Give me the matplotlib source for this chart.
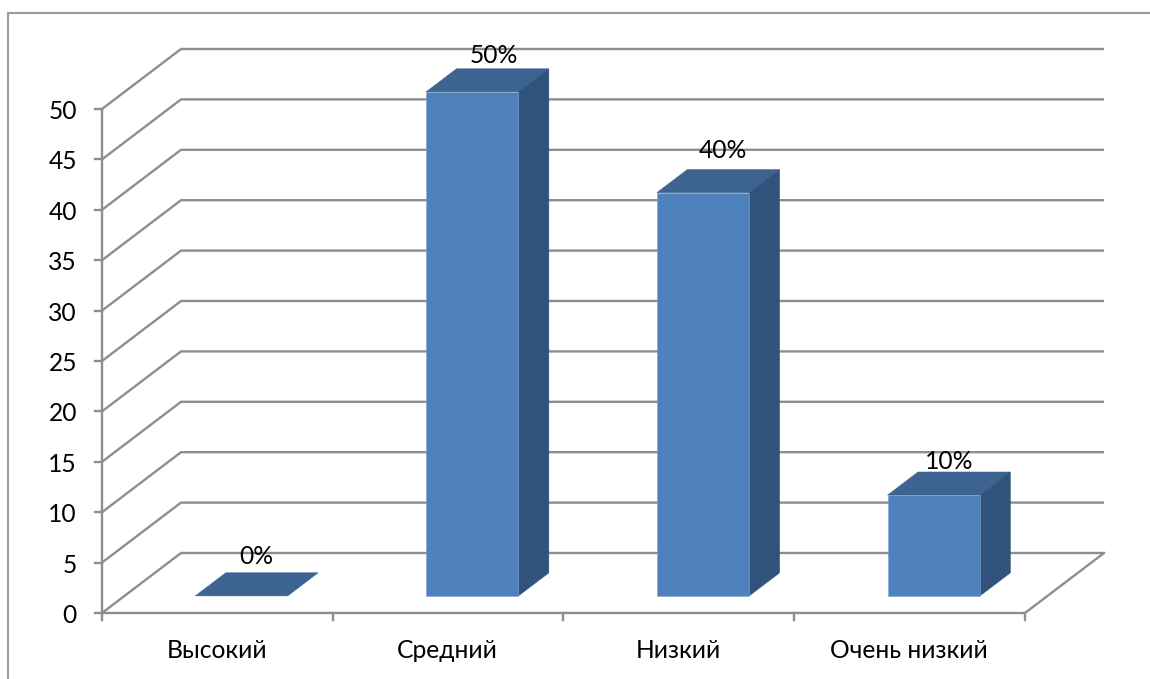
import matplotlib
matplotlib.use("Agg")
import matplotlib.pyplot as plt
from matplotlib.patches import Polygon

plt.rcParams['font.family'] = ['Lato', 'Open Sans', 'DejaVu Sans']

categories = ['Высокий', 'Средний', 'Низкий', 'Очень низкий']
values = [0, 50, 40, 10]
value_labels = ['0%', '50%', '40%', '10%']
y_ticks = [0, 5, 10, 15, 20, 25, 30, 35, 40, 45, 50]

GRID = '#8e8e8e'
FRONT = '#4f81bd'
TOP = '#3d6491'
SIDE = '#31537b'

# px scale of the picture, axes fill the whole figure
W, H = 1150, 679
X0, XSCALE = 102, 230.75   # px of category 0, px per category
Y0, YSCALE = 613, 10.08    # px of value 0, px per unit

fig = plt.figure(figsize=(W / 100, H / 100), dpi=100)
ax = fig.add_axes([0, 0, 1, 1])
ax.set_xlim((0 - X0) / XSCALE, (W - X0) / XSCALE)
ax.set_ylim((Y0 - H) / YSCALE, Y0 / YSCALE)
ax.axis('off')

# fake 3d: depth 0 is the front, depth 1 the back wall
DX = 79 / XSCALE
DY = 60 / YSCALE


def proj(x, y, d=0.0):
    return x + d * DX, y + d * DY


n = len(categories)
lw = 1.7
fs = 17.7

# chart border
ax.plot([8 / W, 8 / W, 1], [0, 1 - 13 / H, 1 - 13 / H], transform=ax.transAxes,
        color='#9a9a9a', lw=1.5, zorder=1)

# walls
for t in y_ticks:
    xs, ys = zip(proj(0, t), proj(0, t, 1), proj(n, t, 1))
    ax.plot(xs, ys, color=GRID, lw=lw, zorder=1, solid_capstyle='butt')
    ax.plot([-7 / XSCALE, 0], [t, t], color=GRID, lw=lw, zorder=1)
    ax.text(-25 / XSCALE, t - 2.5 / YSCALE, str(t), ha='right', va='center', fontsize=fs, color='black')

# floor and axes
xs, ys = zip(proj(0, 0), proj(n, 0), proj(n, 0, 1))
ax.plot(xs, ys, color=GRID, lw=lw, zorder=1)
ax.plot([0, 0], [0, y_ticks[-1]], color=GRID, lw=lw, zorder=1)
for i in range(n + 1):
    ax.plot([i, i], [0, -7 / YSCALE], color=GRID, lw=lw, zorder=1)

# bars
bar_w = 0.4
d1, d2 = 0.285, 0.67
# value labels do not sit at the same spot over each bar (px from front top centre)
label_dx = [15, 22, 20, 15]
label_dy = [39, 36, 42, 34]
for i, (v, lab) in enumerate(zip(values, value_labels)):
    left = i + 0.307
    right = left + bar_w
    top = [proj(left, v, d1), proj(right, v, d1), proj(right, v, d2), proj(left, v, d2)]
    ax.add_patch(Polygon(top, fc=TOP, ec=TOP, lw=0.4, zorder=3))
    if v > 0:
        front = [proj(left, 0, d1), proj(right, 0, d1), proj(right, v, d1), proj(left, v, d1)]
        side = [proj(right, 0, d1), proj(right, 0, d2), proj(right, v, d2), proj(right, v, d1)]
        ax.add_patch(Polygon(side, fc=SIDE, ec=SIDE, lw=0.4, zorder=3))
        ax.add_patch(Polygon(front, fc=FRONT, ec='#7fa3cf', lw=0.4, zorder=4))
    lx, ly = proj(left + bar_w / 2, v, d1)
    ax.text(lx + label_dx[i] / XSCALE, ly + label_dy[i] / YSCALE, lab, ha='center', va='center',
            fontsize=fs, color='black', zorder=5)

# category labels
for i, c in enumerate(categories):
    ax.text(i + 0.497, -37 / YSCALE, c, ha='center', va='center', fontsize=fs, color='black')

fig.savefig('out.png', dpi=100)
